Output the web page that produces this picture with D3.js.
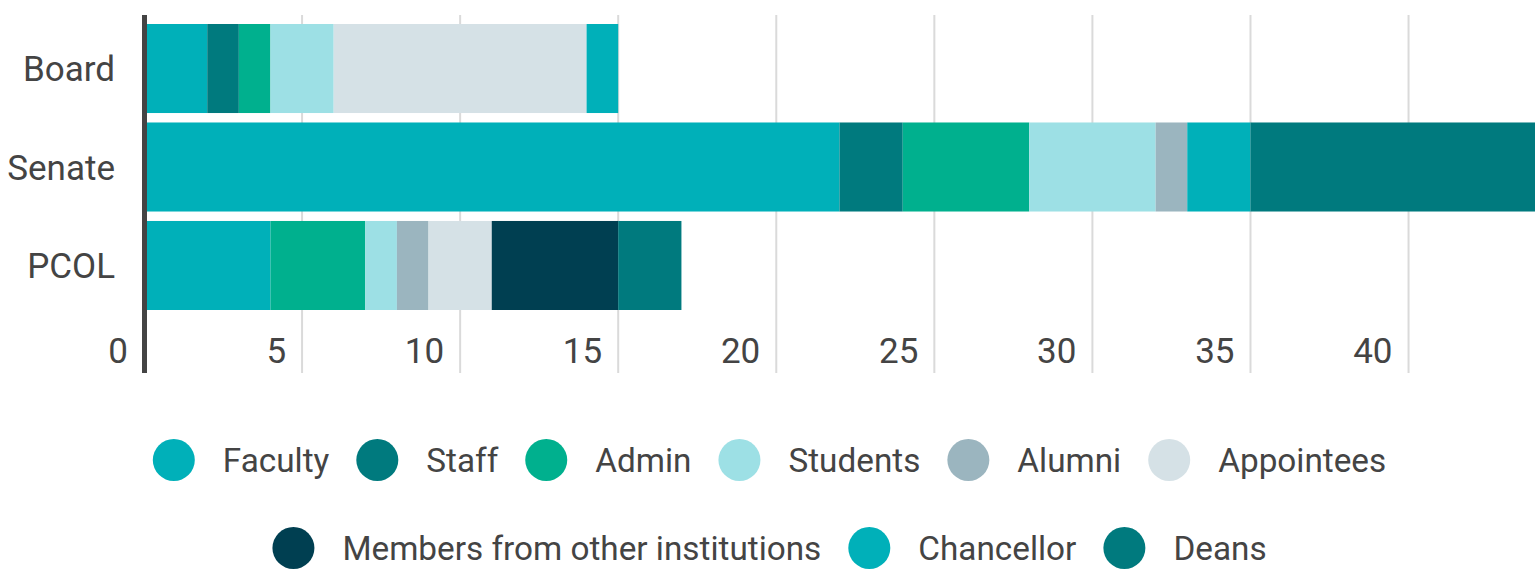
<!DOCTYPE html>
<html>
<head>
<meta charset="utf-8">
<script src="https://cdn.jsdelivr.net/npm/d3@7"></script>
<style>
  body { margin: 0; background: #fff; }
  svg { display: block; font-family: Roboto, sans-serif; }
</style>
</head>
<body>
<svg id="chart"></svg>
<script>
// data
var categories = ["Board", "Senate", "PCOL"];
var seriesNames = ["Faculty", "Staff", "Admin", "Students", "Alumni", "Appointees",
                   "Members from other institutions", "Chancellor", "Deans"];
var faculty    = [2, 22, 4];
var staff      = [1, 2, 0];
var admin      = [1, 4, 3];
var students   = [2, 4, 1];
var alumni     = [0, 1, 1];
var appointees = [8, 0, 2];
var members    = [0, 0, 4];
var chancellor = [1, 2, 0];
var deans      = [0, 9, 2];
var tickValues = [0, 5, 10, 15, 20, 25, 30, 35, 40];
var colors = ["#00b0b9", "#007a7e", "#00b08e", "#9de0e5", "#9bb5bf", "#d5e1e6",
              "#003f51", "#00b0b9", "#007a7e"];

var seriesValues = [faculty, staff, admin, students, alumni, appointees, members, chancellor, deans];

// build rows for d3.stack
var rows = categories.map(function (c, i) {
    var r = { cat: c };
    seriesNames.forEach(function (s, j) { r[s] = seriesValues[j][i]; });
    return r;
});

var width = 1539, height = 569;
var svg = d3.select("#chart").attr("width", width).attr("height", height);

var x = d3.scaleLinear().domain([0, 44]).range([144, 1535]);
var y = d3.scaleBand().domain(categories).range([24, 310]).paddingInner(0.096).paddingOuter(0);

var stacked = d3.stack().keys(seriesNames)(rows);

// gridlines
svg.append("g").selectAll("line")
    .data(tickValues.slice(1))
    .enter().append("line")
    .attr("x1", function (d) { return x(d); })
    .attr("x2", function (d) { return x(d); })
    .attr("y1", 15).attr("y2", 373)
    .attr("stroke", "#dadada")
    .attr("stroke-width", 2);

// bars
svg.append("g").selectAll("g")
    .data(stacked)
    .enter().append("g")
    .attr("fill", function (d, i) { return colors[i]; })
    .selectAll("rect")
    .data(function (d) { return d; })
    .enter().append("rect")
    .attr("x", function (d) { return x(d[0]); })
    .attr("width", function (d) { return x(d[1]) - x(d[0]); })
    .attr("y", function (d) { return y(d.data.cat); })
    .attr("height", y.bandwidth());

// zero axis line
svg.append("line")
    .attr("x1", x(0) + 0.5).attr("x2", x(0) + 0.5)
    .attr("y1", 15).attr("y2", 373)
    .attr("stroke", "#444")
    .attr("stroke-width", 5);

// tick labels
svg.append("g").selectAll("text")
    .data(tickValues)
    .enter().append("text")
    .attr("x", function (d) { return x(d) - 16; })
    .attr("y", 363)
    .attr("text-anchor", "end")
    .attr("font-size", 35)
    .attr("fill", "#444")
    .text(function (d) { return d; });

// category labels
svg.append("g").selectAll("text")
    .data(categories)
    .enter().append("text")
    .attr("x", 115)
    .attr("y", function (d) { return y(d) + y.bandwidth() / 2; })
    .attr("dy", "0.36em")
    .attr("text-anchor", "end")
    .attr("font-size", 35)
    .attr("fill", "#444")
    .text(function (d) { return d; });

// legend, two centered rows
var legendRows = [seriesNames.slice(0, 6), seriesNames.slice(6)];
var legendY = [460, 548];
var r = 21, gapText = 28, gapItem = 27;

legendRows.forEach(function (names, ri) {
    var g = svg.append("g");
    var xPos = 0;
    names.forEach(function (name) {
        var idx = seriesNames.indexOf(name);
        var item = g.append("g").attr("transform", "translate(" + xPos + ",0)");
        item.append("circle")
            .attr("cx", r).attr("cy", legendY[ri]).attr("r", r)
            .attr("fill", colors[idx]);
        var t = item.append("text")
            .attr("x", 2 * r + gapText)
            .attr("y", legendY[ri])
            .attr("dy", "0.36em")
            .attr("font-size", 33.3)
            .attr("fill", "#444")
            .text(name);
        xPos += 2 * r + gapText + t.node().getComputedTextLength() + gapItem;
    });
    var total = xPos - gapItem;
    g.attr("transform", "translate(" + (width / 2 - total / 2) + ",0)");
});
</script>
</body>
</html>
